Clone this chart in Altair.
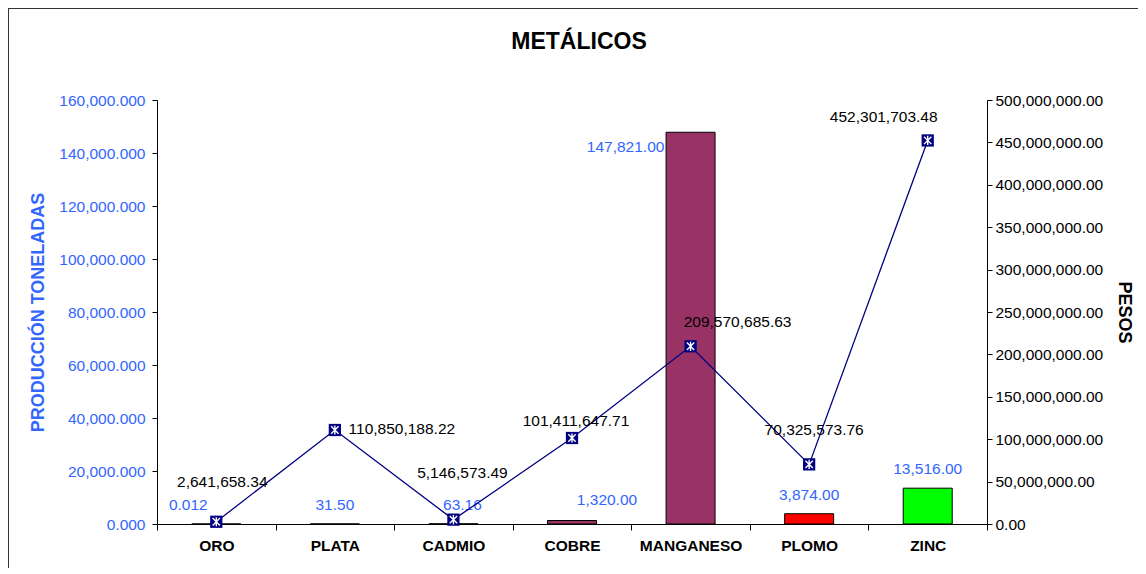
import altair as alt
import pandas as pd

# ---- data ----
categories = ["ORO", "PLATA", "CADMIO", "COBRE", "MANGANESO", "PLOMO", "ZINC"]
toneladas = [0.012, 31.50, 63.16, 1320.00, 147821.00, 3874.00, 13516.00]
pesos = [2641658.34, 110850188.22, 5146573.49, 101411647.71,
         209570685.63, 70325573.76, 452301703.48]
chart_title = "METÁLICOS"

# ---- styling ----
bar_colors = ["#993366", "#993366", "#993366", "#993366", "#993366", "#FF0000", "#00FF00"]
BLUE = "#3366FF"
NAVY = "#000080"
FONT = "Liberation Sans"

# label nudges (pixels), reproducing the manually placed Excel labels
bar_label_dx = [-28, 0, 9, 35, -65, 0, 0]
bar_label_dy = [-19, -19, -19, -21, 15, -19, -19]
line_label_dx = [6, 67, 9, 4, 47, 5, -44]
line_label_dy = [-40, -1, -47, -17, -24, -34, -23]


def fmt_ton(v):
    return f"{v:,.3f}" if v < 1 else f"{v:,.2f}"


df = pd.DataFrame({
    "cat": categories,
    "ton": toneladas,
    "pesos": pesos,
    "ton_lbl": [fmt_ton(v) for v in toneladas],
    "pesos_lbl": [f"{v:,.2f}" for v in pesos],
})

x_enc = alt.X(
    "cat:N", sort=categories, title=None,
    scale=alt.Scale(paddingInner=0, paddingOuter=0),
    axis=alt.Axis(tickBand="extent", labelAngle=0, labelFont=FONT, labelFontSize=15.5,
                  labelFontWeight="bold", labelColor="black", labelPadding=8,
                  domainColor="black", tickColor="black", tickSize=6, grid=False),
)

left_axis = alt.Axis(values=list(range(0, 160001, 20000)), format=",.3f", grid=False,
                     labelFont=FONT, labelFontSize=15.5, labelColor=BLUE, labelPadding=7,
                     domainColor="black", tickColor="black", tickSize=5,
                     title="PRODUCCIÓN TONELADAS", titleFont=FONT, titleFontSize=18,
                     titleFontWeight="bold", titleColor=BLUE, titlePadding=11)
y_left = alt.Y("ton:Q", scale=alt.Scale(domain=[0, 160000], nice=False), axis=left_axis)

right_axis = alt.Axis(values=list(range(0, 500000001, 50000000)), format=",.2f", grid=False,
                      orient="right", labelFont=FONT, labelFontSize=15.5, labelColor="black",
                      labelPadding=3, domainColor="black", tickColor="black", tickSize=5,
                      title="PESOS", titleFont=FONT, titleFontSize=18,
                      titleFontWeight="bold", titleColor="black", titlePadding=12)
y_right = alt.Y("pesos:Q", scale=alt.Scale(domain=[0, 500000000], nice=False), axis=right_axis)

base = alt.Chart(df)

bars = base.mark_bar(size=49, stroke="black", strokeWidth=1).encode(
    x=x_enc, y=y_left,
    color=alt.Color("cat:N", scale=alt.Scale(domain=categories, range=bar_colors), legend=None),
)

bar_labels = []
for i, c in enumerate(categories):
    bar_labels.append(
        base.transform_filter(alt.datum.cat == c).mark_text(
            font=FONT, fontSize=15.5, color=BLUE, align="center", baseline="middle",
            dx=bar_label_dx[i], dy=bar_label_dy[i],
        ).encode(x=x_enc, y=y_left, text="ton_lbl:N")
    )

left = alt.layer(bars, *bar_labels)

line = base.mark_line(color=NAVY, strokeWidth=1.3).encode(x=x_enc, y=y_right)
squares = base.mark_point(shape="square", size=150, filled=True, color=NAVY, opacity=1).encode(
    x=x_enc, y=y_right)
stars = base.mark_point(
    shape="M-0.6,-0.6L0.6,0.6M-0.6,0.6L0.6,-0.6M0,-0.75L0,0.75",
    size=150, filled=False, stroke="white", strokeWidth=1.4, opacity=1,
).encode(x=x_enc, y=y_right)

line_labels = []
for i, c in enumerate(categories):
    line_labels.append(
        base.transform_filter(alt.datum.cat == c).mark_text(
            font=FONT, fontSize=15.5, color="black", align="center", baseline="middle",
            dx=line_label_dx[i], dy=line_label_dy[i],
        ).encode(x=x_enc, y=y_right, text="pesos_lbl:N")
    )

right = alt.layer(line, squares, stars, *line_labels)

frame_df = pd.DataFrame({"k": [0]})
top_rule = alt.Chart(frame_df).mark_rule(color="#333333", strokeWidth=2).encode(
    x=alt.value(-149), x2=alt.value(990), y=alt.value(-92))
left_rule = alt.Chart(frame_df).mark_rule(color="#333333", strokeWidth=2).encode(
    x=alt.value(-149), y=alt.value(-92), y2=alt.value(480))
title_mark = alt.Chart(frame_df).mark_text(
    text=chart_title, font=FONT, fontSize=23, fontWeight="bold", color="black",
    align="center", baseline="alphabetic",
).encode(x=alt.value(422), y=alt.value(-51))

chart = alt.layer(left, right, top_rule, left_rule, title_mark).resolve_scale(
    y="independent"
).properties(
    width=830, height=424,
    padding={"left": 149, "top": 92, "right": 151, "bottom": 44},
    autosize=alt.AutoSizeParams(type="none"),
    background="white",
).configure_view(stroke="transparent", strokeWidth=0).configure_axis(grid=False)

chart.save("out.html", embed_options={"renderer": "svg", "actions": False})
